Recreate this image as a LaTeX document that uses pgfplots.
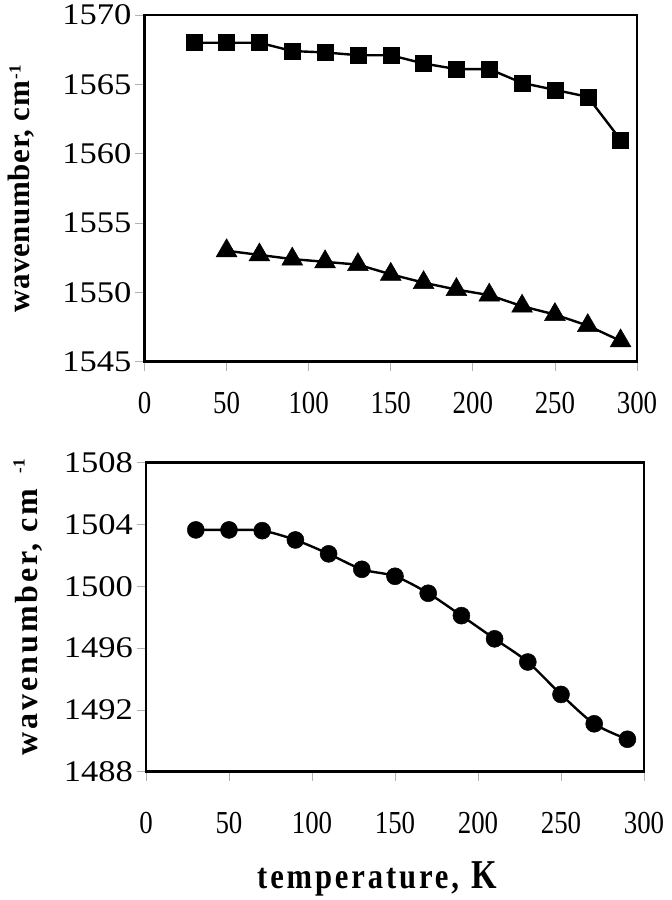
\documentclass[border=0pt]{standalone}
\usepackage{graphicx}
\usepackage{pgfplots}
\pgfplotsset{compat=1.18}
\usepackage{fontspec}
\setmainfont{Liberation Serif}
\newfontfamily\lblA[LetterSpace=2]{Liberation Serif}
\newfontfamily\lblB[LetterSpace=9]{Liberation Serif}
\newfontfamily\xlbl[FakeStretch=0.85,LetterSpace=8]{Liberation Serif}

\pgfplotsset{
  myaxis/.style={
    scale only axis,
    axis line style={line width=2.6pt},
    clip=false,
    xmin=0, xmax=300,
    xtick={0,50,...,300},
    tick align=outside,
    xtick pos=left, ytick pos=left,
    major tick length=9pt,
    tick style={gray!60, line width=0.7pt},
    /pgf/number format/assume math mode=true,
    /pgf/number format/set thousands separator={},
    yticklabel={\scalebox{1.15}[1]{\pgfmathprintnumber{\tick}}},
    xticklabel={\scalebox{0.84}[1]{\pgfmathprintnumber{\tick}}},
    yticklabel style={font=\fontsize{30}{30}\selectfont, anchor=east, inner sep=0pt, xshift=-4pt},
    xticklabel style={font=\fontsize{32}{32}\selectfont, anchor=north, inner sep=0pt},
  }
}

\begin{document}
\begin{tikzpicture}[x=1pt,y=1pt]
\path[use as bounding box] (0,0) rectangle (672,900);

% ---------- top panel ----------
\begin{axis}[myaxis,
  at={(144.5pt,538.3pt)}, anchor=south west,
  width=492.5pt, height=346.7pt,
  ymin=1545, ymax=1570, ytick={1545,1550,...,1570},
  xticklabel style={yshift=-21pt},
]
\addplot[black, line width=2.4pt, mark=square*, mark size=8pt, mark options={line width=0.5pt}] coordinates {
(30,1568.0) (50,1568.0) (70,1568.0) (90,1567.4) (110,1567.3) (130,1567.1)
(150,1567.1) (170,1566.5) (190,1566.1) (210,1566.1) (230,1565.1) (250,1564.6)
(270,1564.1) (290,1561.0)};
\addplot[black, line width=2.4pt, mark=triangle*, mark size=12pt, mark options={line width=0.5pt}] coordinates {
(50,1553.0) (70,1552.7) (90,1552.4) (110,1552.2) (130,1552.0) (150,1551.3)
(170,1550.7) (190,1550.2) (210,1549.8) (230,1549.0) (250,1548.4) (270,1547.6)
(290,1546.5)};
\end{axis}

% ---------- bottom panel ----------
\begin{axis}[myaxis,
  at={(146pt,128.3pt)}, anchor=south west,
  width=498pt, height=309pt,
  ymin=1488, ymax=1508, ytick={1488,1492,...,1508},
  xticklabel style={yshift=-31pt},
]
\addplot[black, line width=2.4pt, smooth, mark=*, mark size=8.5pt, mark options={line width=0.5pt}] coordinates {
(30,1503.65) (50,1503.65) (70,1503.6) (90,1503.0) (110,1502.1) (130,1501.1)
(150,1500.65) (170,1499.55) (190,1498.1) (210,1496.6) (230,1495.1) (250,1493.0)
(270,1491.1) (290,1490.1)};
\end{axis}

% ---------- labels ----------
\node[rotate=90, anchor=base, inner sep=0pt, font=\lblA\bfseries\fontsize{31}{31}\selectfont] at (29,703) {wavenumber, cm};
\node[rotate=90, inner sep=0pt, font=\bfseries\fontsize{17}{17}\selectfont] at (15,828) {-1};

\node[rotate=90, anchor=base, inner sep=0pt, font=\lblB\bfseries\fontsize{32}{32}\selectfont] at (37,278) {wavenumber, cm};
\node[rotate=90, inner sep=0pt, font=\bfseries\fontsize{17}{17}\selectfont] at (19,434) {-1};

\node[anchor=base west, inner sep=0pt, font=\bfseries] at (257,11) {{\xlbl\fontsize{36}{36}\selectfont temperature,}\hspace{12pt}{\fontsize{41}{41}\selectfont\scalebox{0.8}[1]{K}}};
\end{tikzpicture}
\end{document}
